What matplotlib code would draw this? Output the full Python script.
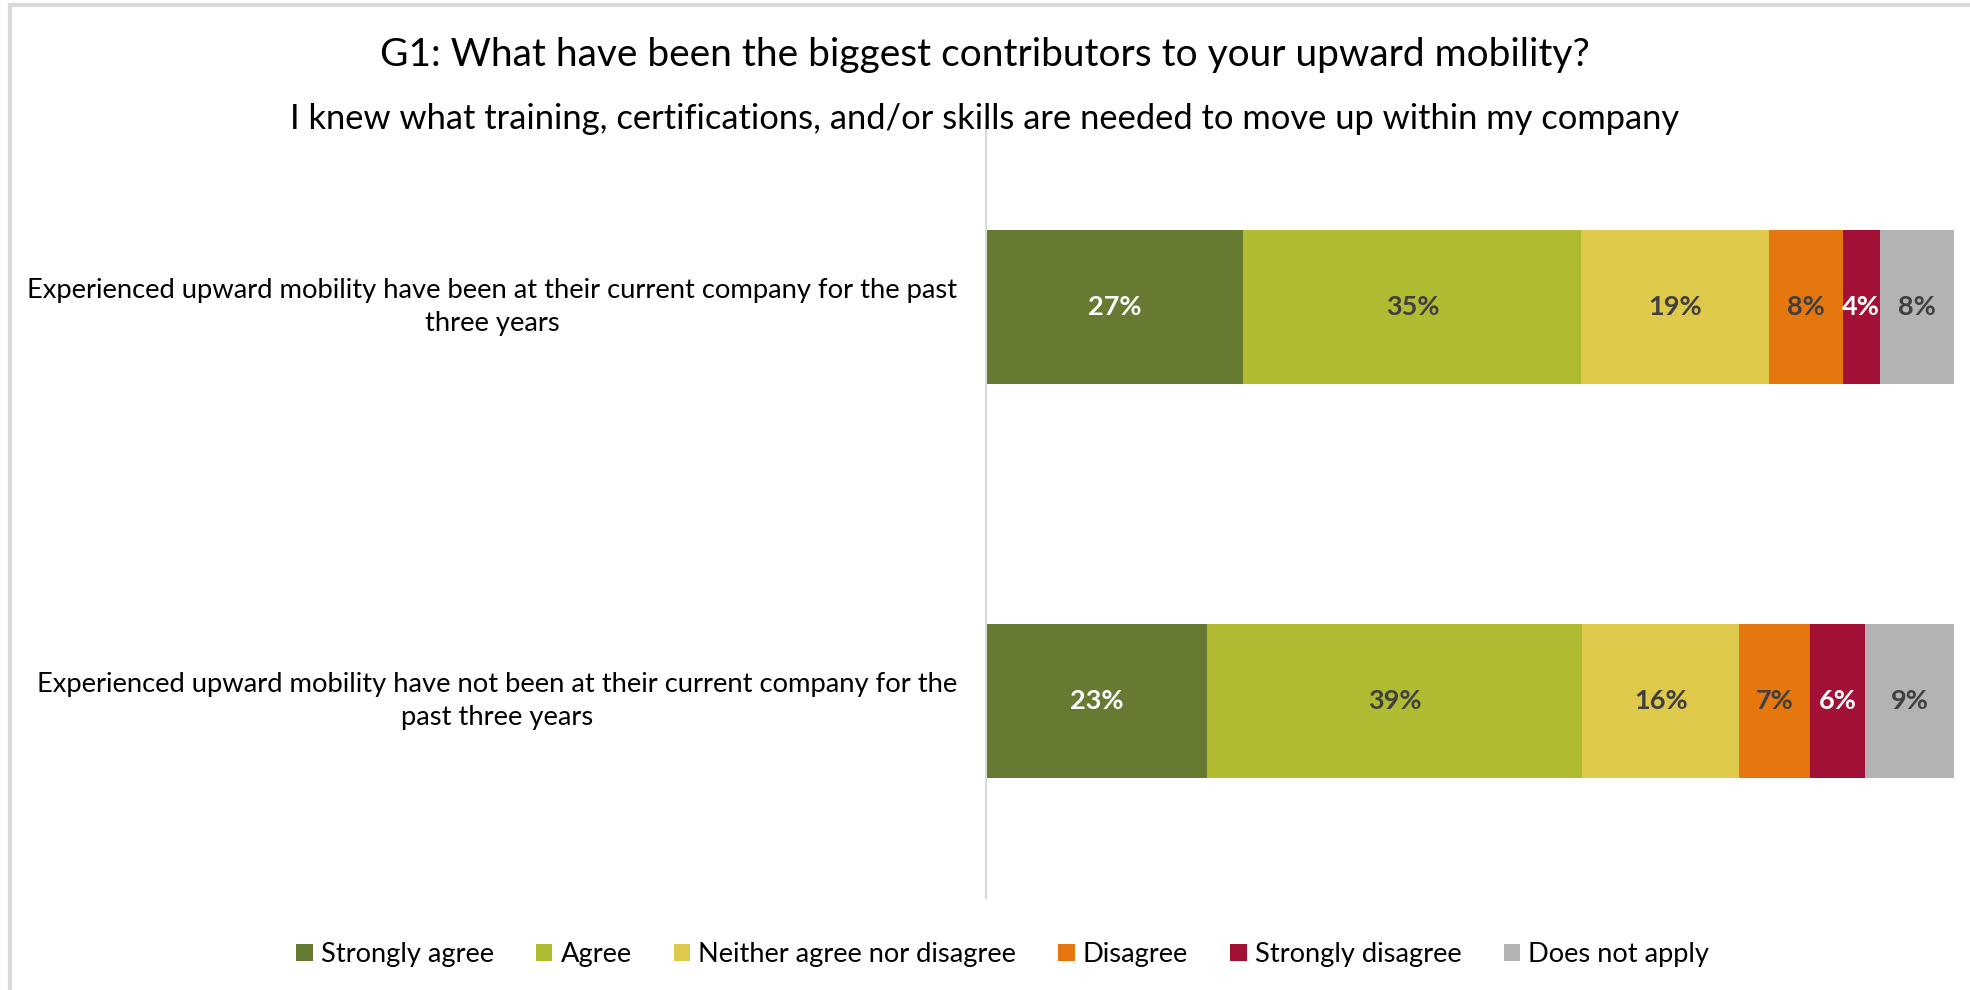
import matplotlib
matplotlib.use("Agg")
import matplotlib.pyplot as plt
from matplotlib.lines import Line2D
from matplotlib.patches import Patch
import numpy as np

plt.rcParams['font.family'] = ['Lato', 'DejaVu Sans']

# 데이터
groups = [
    "Experienced upward mobility have been at their current company for the past\nthree years",
    "Experienced upward mobility have not been at their current company for the\npast three years",
]
responses = ["Strongly agree", "Agree", "Neither agree nor disagree",
             "Disagree", "Strongly disagree", "Does not apply"]
been_vals = [26.6, 34.9, 19.4, 7.6, 3.8, 7.7]
not_been_vals = [22.8, 38.8, 16.2, 7.3, 5.7, 9.2]
colors = ["#667A31", "#B0BB32", "#DFC94A", "#E6760E", "#A31035", "#B3B3B3"]
label_colors = ["white", "#404040", "#404040", "#404040", "white", "#404040"]

title = "G1: What have been the biggest contributors to your upward mobility?"
subtitle = "I knew what training, certifications, and/or skills are needed to move up within my company"

fig = plt.figure(figsize=(19.7, 9.9), dpi=100)
ax = fig.add_axes([0.5005, 0.0929, 0.4914, 0.7798])

vals = np.array([not_been_vals, been_vals])  # bottom row first
ypos = [0, 1]
left = np.zeros(2)
for i, resp in enumerate(responses):
    ax.barh(ypos, vals[:, i], left=left, height=0.39, color=colors[i], label=resp)
    for y, v, l in zip(ypos, vals[:, i], left):
        ax.text(l + v / 2, y, f"{v:.0f}%", ha='center', va='center',
                fontsize=19.5, fontweight='bold', color=label_colors[i])
    left += vals[:, i]

ax.set_xlim(0, 100)
ax.set_ylim(-0.5, 1.46)
ax.set_xticks([])
ax.set_yticks([])
for s in ['top', 'right', 'bottom']:
    ax.spines[s].set_visible(False)
ax.spines['left'].set_color('#D9D9D9')
ax.spines['left'].set_linewidth(1.5)

# 카테고리 라벨
for y, g in zip(ypos, groups[::-1]):
    ax.text(-0.030, y, g, transform=ax.get_yaxis_transform(), ha='right', va='center',
            multialignment='center', fontsize=19.7, color='black', linespacing=1.38)

fig.text(0.5, 0.944, title, ha='center', va='center', fontsize=28)
fig.text(0.5, 0.880, subtitle, ha='center', va='center', fontsize=24.8)

handles = [Patch(facecolor=c, label=r) for c, r in zip(colors, responses)]
fig.legend(handles=handles, loc='center', bbox_to_anchor=(0.509, 0.036), ncol=6,
           frameon=False, fontsize=19.6, handlelength=0.6, handleheight=0.6,
           handletextpad=0.3, columnspacing=1.55)

# 테두리
fig.add_artist(Line2D([0.005, 1.0], [0.995, 0.995], color='#D9D9D9', lw=3))
fig.add_artist(Line2D([0.005, 0.005], [0.0, 0.995], color='#D9D9D9', lw=3))

fig.savefig("out.png", dpi=100, facecolor='white')
